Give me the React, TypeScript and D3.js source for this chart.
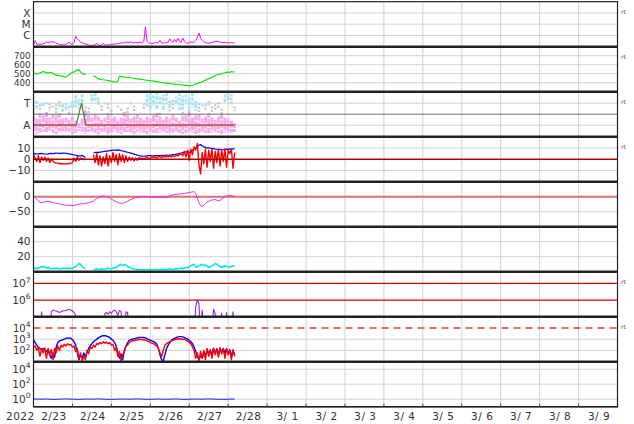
import { useRef, useEffect } from "react";
import * as d3 from "d3";

const START = Date.UTC(2022, 1, 23);
const END = Date.UTC(2022, 2, 10);
const HOUR = 3600 * 1000;

const yearLabel = "2022";
const dayLabels = ["2/23", "2/24", "2/25", "2/26", "2/27", "2/28", "3/ 1", "3/ 2", "3/ 3", "3/ 4", "3/ 5", "3/ 6", "3/ 7", "3/ 8", "3/ 9"];

// hourly samples from 2/23 00UT
// X-ray flux in units of 1e-7 W/m2
const xray = [
  1.5, 3.5, 1.6, 1.5, 1.7, 1.6, 1.8, 2, 2.8, 2.2,
  2.5, 3, 2.4, 2.8, 2, 1.8, 1.6, 1.5, 1.4, 1.5,
  1.6, 2, 2.5, 1.8, 1.6, 2.5, 8.5, 5, 3.5, 2.6,
  2.2, 1.9, 1.7, 1.5, 1.4, 1.3, 1.3, 1.4, 1.5, 2,
  1.4, 1.3, 1.4, 1.9, 1.4, 1.5, 1.4, 1.5, 1.6, 1.7,
  1.6, 1.8, 1.9, 2, 2.2, 2.1, 2.3, 2.6, 2.2, 2.4,
  2.8, 2.3, 2.1, 2.4, 2.2, 2.3, 2.5, 2.4, 3, 57,
  3, 2.2, 2, 1.9, 2, 2.4, 2.1, 2.3, 3.7, 2.2,
  2, 2.3, 2.2, 2.6, 5, 3, 2.4, 4.5, 2.6, 5.5,
  2.8, 2.4, 6, 3, 2.2, 2, 2.3, 2.8, 2.4, 2.6,
  3.5, 7, 16, 6, 3.5, 2.6, 2.3, 2.1, 2, 2.2,
  2.3, 2.6, 2.8, 3, 2.8, 2.6, 2.4, 2.3, 2.5, 2.2,
  2.3, 2.1, 2.4, 2.2, 2.1,
];
const xrayTicks = [{ v: 1e-4, t: "X" }, { v: 1e-5, t: "M" }, { v: 1e-6, t: "C" }];

// solar wind speed km/s
const speed = [
  500, 505, 498, 502, 510, 515, 525,
  518, 512, 508, 515, 510, 505,
  490, 485, 478, 482, 470, 475, 465, 460,
  475, 490, 505, 515, 520, 530, 540, 545,
  520, 500, 495, 490,
  NaN, NaN, NaN, NaN,
  475, 470, 455, 445, 440,
  435, 432, 430, 428, 425, 420, 415, 412, 410, 408, 412,
  475, 470, 465, 462, 460, 458, 460, 455, 452,
  448, 445, 442, 440, 438, 435, 432, 430, 428, 425, 422,
  420, 418, 415, 412, 410, 405, 402, 400, 398, 395, 392, 390, 388, 386,
  384, 382, 380, 378, 376, 374, 372, 370, 368, 365,
  368, 372, 378, 385, 390, 395, 402,
  410, 420, 430, 438, 445, 450,
  460, 470, 480, 488, 492, 495,
  500, 505, 510, 515, 520, 512, 525, 518, 522,
];
const speedTicks = [700, 600, 500, 400];

// sector (T/A) panel, 2-hourly slots: pink range, blue and gray [slot, lo, hi]
const pinkHi = [
  -0.2, -0.4, 0.1, -0.1, 0.2, -0.3, 0, -0.2, 0.1, -0.4,
  -0.3, -0.5, -0.2, -0.6, -0.8, -0.4, 0.2, -0.1, -0.3, 0,
  -0.2, -0.5, -0.3, 0.1, -0.4, -0.2, -0.6, -0.3, 0.2, -0.1,
  -0.4, -0.2, 0, -0.3, -0.5, -0.2, -0.4, -0.1, 0.1, -0.3,
  -0.5, -0.2, -0.4, 0, -0.3, -0.6, -0.2, -0.1, 0.2, -0.3,
  -0.1, 0, -0.4, -0.2, 0.1, -0.3, -0.5, -0.2, 0, -0.3,
  -0.4, -0.6, -0.8,
];
const pinkLo = [
  -1.6, -1.8, -1.7, -1.6, -1.7, -1.5, -1.7, -1.8, -1.6, -1.7,
  -1.7, -1.6, -1.8, -1.7, -1.5, -1.7, -1.8, -1.6, -1.7, -1.7,
  -1.8, -1.6, -1.7, -1.8, -1.7, -1.6, -1.7, -1.8, -1.7, -1.6,
  -1.7, -1.8, -1.6, -1.7, -1.7, -1.8, -1.6, -1.7, -1.8, -1.7,
  -1.6, -1.7, -1.8, -1.7, -1.6, -1.7, -1.8, -1.7, -1.6, -1.7,
  -1.8, -1.7, -1.6, -1.7, -1.8, -1.7, -1.6, -1.7, -1.8, -1.7,
  -1.6, -1.7, -1.6,
];
const blueBars = [
  [0, 0.3, 1.6], [1, 0.5, 1.2], [3, 0.7, 1.0], [4, 0.8, 1.1], [9, 0.2, 0.9], [10, 0.4, 1.0],
  [11, 0.3, 0.8], [12, 0.5, 1.2], [13, 0.6, 1.7], [14, 0.4, 1.4], [15, 0.7, 1.8], [18, 1.0, 1.8],
  [19, 1.2, 1.9], [20, 0.8, 1.5], [22, 0.9, 1.1], [26, 0.6, 0.8], [30, 0.9, 1.1], [35, 0.6, 1.8],
  [36, 0.3, 1.9], [37, 0.8, 1.7], [38, 0.5, 1.9], [39, 0.9, 1.6], [40, 0.4, 1.8], [41, 1.0, 1.9],
  [42, 0.2, 1.2], [44, 0.8, 1.6], [45, 0.3, 1.9], [46, 0.4, 1.7], [47, 0.9, 1.8], [48, 0.2, 1.5],
  [49, 0.6, 1.9], [50, 0.3, 1.2], [52, 0.6, 0.9], [54, 0.8, 1.2], [59, 1.0, 1.8], [60, 1.2, 1.9],
];
const grayBars = [
  [0, -0.3, 0.2], [2, 0.4, 0.9], [5, 0.3, 1.0], [6, 0.5, 0.8], [7, -0.2, 0.9], [8, 0.6, 1.2],
  [11, -0.1, 0.2], [16, 0.2, 0.7], [17, 0.1, 0.6], [21, 0.3, 0.8], [23, 0.5, 1.0], [24, -0.3, 0.4],
  [27, 0.2, 0.5], [29, 0.1, 0.6], [31, 0.2, 0.8], [34, 0.4, 1.0], [39, -0.4, 0.1], [43, 0.5, 1.3],
  [46, -0.2, 0.2], [51, 0.2, 1.0], [53, 0.4, 0.9], [55, 0.1, 0.7], [56, 0.3, 0.9], [57, 0.5, 1.1],
  [58, -0.2, 0.5], [61, 0.8, 1.8], [62, 0.3, 0.7],
];
// sector line [hour, value] : A = -1, T = +1
const sector = [[0, -1], [26.3, -1], [29.6, 1], [32.3, -1], [124, -1]];

// IMF Bt, Bz nT
const bt = [
  4.5, 5, 4.6, 4.8, 5, 5.2, 4.8,
  4.6, 4.4, 4.8, 5, 5.2, 5,
  5.2, 5.4, 5.3, 5.1, 5.2, 5.4, 5.5, 5.3, 5.0, 4.8, 4.5, 4.2,
  3.8, 3.5, 3.2, 2.8, 3.0, 3.4, 2.5, 1.6,
  NaN, NaN, NaN, NaN,
  5.5, 6, 6.2, 6.0, 6.3, 6.5, 6.8, 7, 7.2, 7.4, 7.6, 7.8, 8, 8.2, 7.8, 8.3, 8.0, 7.6, 7.3, 7.0,
  6.5, 6.2, 5.8, 5.4, 5.0, 4.5, 4.0, 3.6, 3.3, 3.0, 2.8, 2.6,
  2.8, 3.0, 3.1, 3.2, 3.0, 2.9, 3.1, 3.2, 3.3, 3.2, 3.4, 3.3, 3.5, 3.6, 3.5, 3.7, 3.8, 4.0, 4.2, 4.5,
  4.8, 5.2, 5.5, 6.0, 6.2, 6.5, 6.5,
  6, 7, 8, 9, 10, 11, 12.5, 13, 12, 11, 10.5,
  10, 10.2, 9.8, 9.6, 9.4, 9.0, 8.8, 8.6, 8.8, 8.5, 8.4, 8.7, 9.0, 8.8, 9.2, 9.0, 9.3, 9.1,
];
const bz = [
  4, 1, -2, 3, -3, 2, -1, 2, -2, 1, -3, 0, -2,
  -3, -3.5, -3.5, -4, -3.8, -4, -4.2, -4, -4.2, -3.8, -3.5, -3,
  1, -2, 2, -1, 1, 0.5, -0.5, 0.5,
  NaN, NaN, NaN, NaN,
  4, -3, 5, -5, 3, -6, 2, -4, 5, -6, 3, -3, 6, -2, 4, -5, 5, -2, 4, -3, 3, -2, 2, -1,
  1.5, -1.5, 1, -1, 1.5, 0.5, 1, 0, 1, 1.5, 0.5, 1, 2, 1.5, 2, 1, 2.5, 2, 1.5, 2.5, 2, 2.5, 2, 3, 2, 3, 2.5, 3.5, 3, 4,
  5, 3, 7, 2, 8, -1, 9, 4, 11,
  8, 14, -5, -13, 6, -4, 9, -7, 8, -2, 9, -8, 7, -3, 9, -6, 8, -2, 9, -7, 8, 5, 9, -8, 6,
];
const imfTicks = [{ v: 10, t: "10" }, { v: 0, t: "0" }, { v: -10, t: "\u221210" }];

// Dst nT
const dst = [
  0, -3, -8, -14, -18, -20, -19, -17, -16, -16,
  -17, -18, -19, -21, -22, -23, -24, -25, -26, -27,
  -28, -29, -28, -29, -30, -29, -27, -26, -25, -24,
  -24, -23, -22, -21, -20, -19, -17, -14, -10, -6,
  -3, 0, 2, 2, 1, 0, -2, -5, -8, -11,
  -14, -17, -19, -21, -22, -22, -20, -18, -15, -12,
  -9, -7, -5, -3, -2, -1, 0, 0, 1, 0,
  -1, -1, -2, -1, -2, -3, -2, -3, -2, -1,
  -2, -3, -2, 0, 3, 5, 6, 7, 8, 8,
  9, 10, 10, 11, 12, 13, 14, 15, 16, 17,
  10, -5, -20, -30, -33, -28, -22, -18, -15, -13,
  -11, -10, -9, -12, -14, -12, -8, -4, 0, 3,
  4, 5, 4, 2, 0,
];
const dstTicks = [{ v: 0, t: "0" }, { v: -50, t: "\u221250" }];

// proton density /cc
const density = [
  4, 5, 4, 5, 6, 7, 6, 7, 5, 6,
  5, 4, 4, 5, 4, 5, 4, 4, 5, 4,
  5, 4, 5, 4, 5, 6, 7, 9, 11, 10,
  7, 5, 4, NaN, NaN, NaN, NaN,
  3, 3, 4, 3, 3, 4, 3, 3, 4, 5, 4, 4, 5,
  5, 6, 7, 9, 10, 8, 10, 9, 7, 6,
  5, 4, 4, 3, 3, 3, 2.5, 3, 3, 2.5,
  3, 3, 2.5, 3, 2.5, 3, 3, 2.5, 2.5, 3,
  3, 2.5, 3, 3, 4, 3, 3, 3.5, 4, 3.5,
  4, 5, 4, 5, 6, 5, 7, 8, 9, 10,
  6, 7, 8, 9, 10, 8, 9, 7, 6, 7,
  8, 9, 11, 10, 8, 7, 6, 7, 8, 7,
  7, 6, 7, 8, 7,
];
const densityTicks = [40, 20];

// high energy proton flux [hour, value] (1e4 = below scale)
const protons = [
  [0, 1e4], [4, 1e4], [5, 2e5], [6, 1e4], [10, 1e4], [11, 2e5], [12, 2.5e5], [13, 2.3e5], [14, 2.2e5],
  [15, 2e5], [16, 1.8e5], [17, 2e5], [18, 2.2e5], [19, 2.3e5], [20, 2.4e5], [21, 2.6e5], [22, 2.7e5],
  [23, 2.5e5], [24, 2.2e5], [25, 1.8e5], [26, 1.2e5], [27, 1e4], [43, 1e4], [44, 1.5e5], [45, 1.8e5],
  [46, 1.4e5], [47, 2e5], [48, 1.6e5], [49, 2.2e5], [50, 2.5e5], [51, 2e5], [52, 1.2e5], [53, 2.4e5],
  [54, 2e5], [55, 1e4], [56, 1e4], [57, 2e5], [58, 1.8e5], [59, 1e4], [99, 1e4], [100, 4e5], [101, 1e6],
  [102, 6e5], [103, 1e4], [104, 2.5e5], [105, 1e4], [110, 1e4], [111, 2.8e5], [112, 1.5e5], [113, 1e4],
  [115, 1e4], [116, 1.6e5], [117, 1e4], [118, 1e4], [119, 1.8e5], [120, 1e4], [122, 1e4], [123, 2e5], [124, 1e4],
];
const protonTicks = [7, 6];

// electron flux, blue and red channels
const elecBlue = [
  850, 500, 300, 200, 150, 120, 150, 100, 80, 120,
  40, 20, 60, 25, 200, 500, 700, 800, 900, 1000,
  1200, 1300, 1250, 1200, 900, 600, 300, 60, 15, 40,
  20, 60, 25, 80, 150, 250, 400, 600, 800, 1000,
  1300, 1600, 1900, 2000, 2000, 1900, 1700, 1400, 1000, 800,
  500, 250, 60, 20, 50, 15, 100, 250, 500, 800,
  900, 1000, 1100, 1200, 1300, 1400, 1450, 1450, 1400, 1300,
  1100, 900, 800, 700, 600, 500, 350, 150, 40, 15,
  12, 40, 150, 300, 500, 800, 1000, 1200, 1400, 1600,
  1700, 1700, 1600, 1400, 1200, 1000, 800, 600, 400, 200,
  80, 30, 15, 40, 20, 80, 30, 120, 50, 100,
  40, 150, 60, 130, 50, 160, 70, 150, 60, 140,
  50, 120, 30, 100, 40,
];
const elecRed = [
  200, 250, 100, 180, 30, 150, 60, 170, 20, 150,
  40, 120, 15, 150, 60, 250, 100, 300, 200, 350,
  250, 400, 300, 350, 200, 250, 80, 150, 20, 60,
  12, 30, 15, 100, 50, 200, 150, 300, 200, 400,
  350, 500, 400, 600, 450, 550, 400, 500, 300, 350,
  100, 200, 30, 80, 12, 40, 80, 250, 300, 500,
  600, 800, 700, 900, 800, 1000, 900, 1000, 800, 900,
  700, 600, 500, 450, 400, 300, 250, 150, 60, 30,
  100, 300, 400, 500, 600, 700, 800, 900, 1000, 1100,
  1000, 1100, 900, 1000, 800, 700, 500, 400, 200, 100,
  20, 60, 12, 80, 20, 100, 15, 150, 30, 120,
  20, 160, 40, 150, 25, 170, 50, 130, 20, 150,
  40, 100, 15, 120, 30,
];
const elecTicks = [4, 3, 2];

// lowest panel, 4-hourly
const lowFlux = [
  1.1, 1.0, 1.05, 0.95, 1.0, 1.1, 1.0, 0.95, 1.05, 1.0, 1.1, 1.0, 0.95, 1.0, 1.05, 1.0,
  1.1, 1.0, 0.95, 1.05, 1.0, 1.0, 1.1, 0.95, 1.0, 1.05, 1.0, 1.1, 1.0, 0.95, 1.0, 1.05,
];
const lowTicks = [4, 2, 0];

const rtPanels = [0, 1, 2, 3, 6, 7];

export default function App() {
  const svgRef = useRef<SVGSVGElement>(null);

  useEffect(() => {
    if (!svgRef.current) return;
    const svg = d3.select(svgRef.current);
    svg.selectAll("*").remove();

    const L = 33.5;
    const R = 617.5;
    const T0 = 1.7;
    const PH = 45;
    const font = "DejaVu Sans, sans-serif";
    const top = (k: number) => T0 + k * PH;
    const bot = (k: number) => T0 + (k + 1) * PH;

    const x = d3.scaleUtc().domain([START, END]).range([L, R]);
    const th = (h: number) => x(START + h * HOUR);

    const ys = [
      d3.scaleLog().domain([1e-7, 1e-3]).range([bot(0), top(0)]),
      d3.scaleLinear().domain([300, 800]).range([bot(1), top(1)]),
      d3.scaleLinear().domain([-2.05, 2.05]).range([bot(2), top(2)]),
      d3.scaleLinear().domain([-20, 20]).range([bot(3), top(3)]),
      d3.scaleLinear().domain([-100, 50]).range([bot(4), top(4)]),
      d3.scaleLinear().domain([0, 60]).range([bot(5), top(5)]),
      d3.scaleLog().domain([1e5, Math.pow(10, 7.7)]).range([bot(6), top(6)]),
      d3.scaleLog().domain([10, 1e5]).range([bot(7), top(7)]),
      d3.scaleLog().domain([0.1, 1e5]).range([bot(8), top(8)]),
    ];

    const defs = svg.append("defs");
    ys.forEach((_, k) => {
      defs.append("clipPath").attr("id", `pc${k}`)
        .append("rect").attr("x", L).attr("y", top(k)).attr("width", R - L).attr("height", PH);
    });

    // vertical day grid
    const days = d3.utcDay.range(new Date(START + 24 * HOUR), new Date(END));
    svg.append("g").selectAll("line").data(days).join("line")
      .attr("x1", (d) => x(d)).attr("x2", (d) => x(d))
      .attr("y1", top(0)).attr("y2", bot(8))
      .attr("stroke", "#d2d2d2").attr("stroke-width", 1);

    const hgrid = (k: number, v: number, color = "#d2d2d2", w = 1, dash?: string) => {
      const l = svg.append("line")
        .attr("x1", L).attr("x2", R).attr("y1", ys[k](v)).attr("y2", ys[k](v))
        .attr("stroke", color).attr("stroke-width", w);
      if (dash) l.attr("stroke-dasharray", dash);
    };

    const label = (k: number, v: number, t: string, sup?: string, size = 10.5) => {
      const txt = svg.append("text")
        .attr("x", 30.5).attr("y", ys[k](v) + size * 0.36)
        .attr("text-anchor", "end").attr("font-family", font).attr("font-size", size)
        .attr("fill", "#333");
      txt.append("tspan").text(t);
      if (sup !== undefined) {
        txt.append("tspan").attr("dy", -4.5).attr("font-size", 7.5).text(sup);
      }
    };

    const lineH = (k: number, data: number[], color: string, w: number, step = 1) => {
      const gen = d3.line<number>()
        .defined((v) => Number.isFinite(v))
        .x((_, i) => th(i * step))
        .y((v) => ys[k](v));
      svg.append("path").attr("clip-path", `url(#pc${k})`)
        .attr("d", gen(data)).attr("fill", "none")
        .attr("stroke", color).attr("stroke-width", w).attr("stroke-linejoin", "round");
    };
    const linePairs = (k: number, data: number[][], color: string, w: number) => {
      const gen = d3.line<number[]>().x((d) => th(d[0])).y((d) => ys[k](d[1]));
      svg.append("path").attr("clip-path", `url(#pc${k})`)
        .attr("d", gen(data)).attr("fill", "none")
        .attr("stroke", color).attr("stroke-width", w).attr("stroke-linejoin", "round");
    };

    // panel 0: X-ray
    xrayTicks.forEach((d) => { hgrid(0, d.v); label(0, d.v, d.t); });
    lineH(0, xray.map((v) => v * 1e-7), "#ff00ff", 1);

    // panel 1: speed
    speedTicks.forEach((v) => { hgrid(1, v); label(1, v, String(v), undefined, 8.6); });
    lineH(1, speed, "#00e600", 1.1);

    // panel 2: sector
    hgrid(2, 1); hgrid(2, -1);
    label(2, 1, "T"); label(2, -1, "A");
    const slotW = th(2) - th(0);
    const gp = svg.append("g").attr("clip-path", "url(#pc2)");
    gp.selectAll("line.pink").data(pinkHi).join("line").attr("class", "pink")
      .attr("x1", (_, i) => th(i * 2)).attr("x2", (_, i) => th(i * 2))
      .attr("y1", (v) => ys[2](v)).attr("y2", (_, i) => ys[2](pinkLo[i]))
      .attr("stroke", "#f5acee").attr("stroke-width", slotW - 0.2)
      .attr("stroke-dasharray", (_, i) => (i % 2 ? "7,1,5,1" : "5,1,8,1"));
    gp.selectAll("line.gray").data(grayBars).join("line").attr("class", "gray")
      .attr("x1", (d) => th(d[0] * 2)).attr("x2", (d) => th(d[0] * 2))
      .attr("y1", (d) => ys[2](d[2])).attr("y2", (d) => ys[2](d[1]))
      .attr("stroke", "#c6c6c6").attr("stroke-width", 2.4).attr("stroke-dasharray", "2,1.5");
    gp.selectAll("line.blue").data(blueBars).join("line").attr("class", "blue")
      .attr("x1", (d) => th(d[0] * 2)).attr("x2", (d) => th(d[0] * 2))
      .attr("y1", (d) => ys[2](d[2])).attr("y2", (d) => ys[2](d[1]))
      .attr("stroke", "#a6e2f6").attr("stroke-width", 2.8)
      .attr("stroke-dasharray", (d) => (d[0] % 2 ? "3,1.5" : "2,1,4,1.5"));
    hgrid(2, 0, "#6e6e6e", 1);
    linePairs(2, sector, "#4f7a3a", 1.2);
    linePairs(2, sector.filter((d) => d[0] <= 26.3), "#e84848", 1.3);
    linePairs(2, sector.filter((d) => d[0] >= 32.3), "#e84848", 1.3);

    // panel 3: IMF
    hgrid(3, 10); hgrid(3, -10);
    imfTicks.forEach((d) => label(3, d.v, d.t));
    lineH(3, bt, "#0000ff", 1.2);
    lineH(3, bz, "#ff0000", 1.4);
    hgrid(3, 0, "#b00000", 1.5);

    // panel 4: Dst
    hgrid(4, -50);
    hgrid(4, 0, "#d87070", 2);
    dstTicks.forEach((d) => label(4, d.v, d.t));
    lineH(4, dst, "#f020f0", 1);

    // panel 5: density
    densityTicks.forEach((v) => { hgrid(5, v); label(5, v, String(v)); });
    lineH(5, density, "#00e8e8", 1.5);

    // panel 6: protons
    protonTicks.forEach((p) => { hgrid(6, Math.pow(10, p), "#d00000", 1.2); label(6, Math.pow(10, p), "10", String(p)); });
    linePairs(6, protons, "#a020e0", 1.1);

    // panel 7: electrons
    elecTicks.forEach((p) => {
      if (p === 4) hgrid(7, 1e4, "#e04040", 1.6, "7,5");
      else hgrid(7, Math.pow(10, p));
      label(7, Math.pow(10, p), "10", String(p), 10);
    });
    lineH(7, elecBlue, "#0000ff", 1.4);
    lineH(7, elecRed, "#ff0000", 1.4);

    // panel 8
    lowTicks.forEach((p) => { hgrid(8, Math.pow(10, p)); label(8, Math.pow(10, p), "10", String(p)); });
    lineH(8, lowFlux, "#2020ff", 1, 4);

    // frame and separators
    svg.append("rect").attr("x", L).attr("y", top(0)).attr("width", R - L).attr("height", bot(8) - top(0))
      .attr("fill", "none").attr("stroke", "#222").attr("stroke-width", 1.2);
    d3.range(1, 9).forEach((k) => {
      svg.append("line").attr("x1", L).attr("x2", R).attr("y1", top(k)).attr("y2", top(k))
        .attr("stroke", "#222").attr("stroke-width", 2.6);
    });
    svg.append("line").attr("x1", L).attr("x2", R).attr("y1", bot(8)).attr("y2", bot(8))
      .attr("stroke", "#222").attr("stroke-width", 1.6);

    // bottom ticks
    svg.append("g").selectAll("line").data(days).join("line")
      .attr("x1", (d) => x(d)).attr("x2", (d) => x(d))
      .attr("y1", bot(8) - 3).attr("y2", bot(8))
      .attr("stroke", "#444");

    // right side tags
    rtPanels.forEach((k) => {
      svg.append("text").attr("x", 621).attr("y", top(k) + 12)
        .attr("font-family", font).attr("font-size", 6).attr("fill", "#555").text("rt");
    });

    // time axis labels
    svg.append("text").attr("x", 6).attr("y", 420)
      .attr("font-family", font).attr("font-size", 10.5).attr("fill", "#333")
      .attr("letter-spacing", 0.5).text(yearLabel);
    svg.append("g").selectAll("text").data(dayLabels).join("text")
      .attr("x", (_, i) => th(i * 24 + 12) + 1).attr("y", 420)
      .attr("text-anchor", "middle").attr("font-family", font).attr("font-size", 10.5)
      .attr("fill", "#333").attr("letter-spacing", 0.5).attr("xml:space", "preserve")
      .style("white-space", "pre").text((d) => d);
  }, []);

  return (
    <div style={{ position: "absolute", left: 0, top: 0 }}>
      <svg ref={svgRef} width={634} height={424} style={{ display: "block", background: "#fff" }} />
    </div>
  );
}
